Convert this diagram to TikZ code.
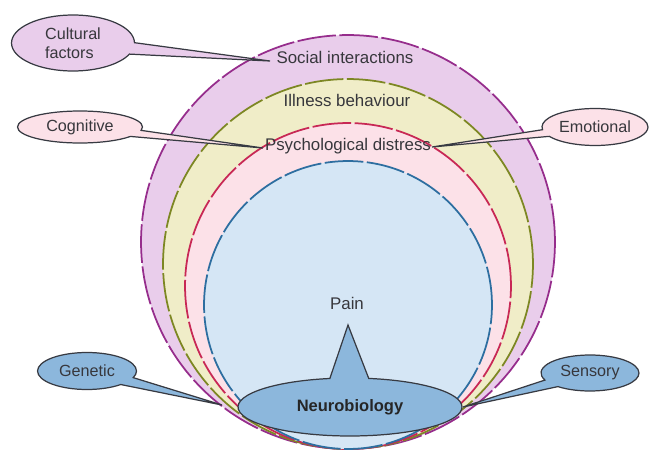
\documentclass[tikz,border=0pt]{standalone}
\usepackage{fontspec}
\setmainfont{Liberation Sans}
\usetikzlibrary{shapes.callouts, shapes.geometric, positioning}
\definecolor{socialline}{RGB}{150, 45, 140}
\definecolor{socialfill}{RGB}{233, 205, 235}
\definecolor{illnessline}{RGB}{125, 135, 35}
\definecolor{illnessfill}{RGB}{240, 237, 200}
\definecolor{distressline}{RGB}{200, 40, 85}
\definecolor{distressfill}{RGB}{252, 225, 232}
\definecolor{painline}{RGB}{45, 110, 160}
\definecolor{painfill}{RGB}{213, 230, 245}
\definecolor{neurofill}{RGB}{140, 183, 220}
\definecolor{outlinegrey}{RGB}{55, 58, 66}
\definecolor{labelgrey}{RGB}{55, 55, 60}

\begin{document}
\begin{tikzpicture}[
    x=0.02cm, y=-0.02cm,
    ring/.style={line width=1pt, dash pattern=on 22pt off 2pt},
    layer/.style={font=\fontsize{9.6}{11}\selectfont, text=labelgrey, inner sep=1pt},
    bubble/.style={ellipse callout, draw=outlinegrey, line width=0.7pt, inner sep=0pt,
        align=left, font=\fontsize{9.2}{11}\selectfont, text=labelgrey}
]
    \useasboundingbox (0,0) rectangle (650,450);

    \coordinate (csocial) at (348,242);
    \coordinate (cillness) at (348,264);
    \coordinate (cdistress) at (348,286);
    \coordinate (cpain) at (348,305);

    \draw[ring, draw=socialline, fill=socialfill] (csocial) circle[radius=4.14cm];
    \draw[ring, draw=illnessline, fill=illnessfill] (cillness) circle[radius=3.70cm];
    \draw[ring, draw=distressline, fill=distressfill] (cdistress) circle[radius=3.26cm];
    \draw[ring, draw=painline, fill=painfill] (cpain) circle[radius=2.88cm];

    \node[layer] (social) at (345,57) {Social interactions};
    \node[layer] (illness) at (347,100) {Illness behaviour};
    \node[layer] (distress) at (348,146) {Psychological distress};
    \node[layer] (pain) at (347,303) {Pain};

    \coordinate (culturaltip) at (270,61);
    \coordinate (cognitivetip) at (263,148);
    \coordinate (emotionaltip) at (432,147);
    \coordinate (genetictip) at (222,405);
    \coordinate (sensorytip) at (463,407);
    \coordinate (neurotip) at (348,325);

    \node[bubble, fill=socialfill, minimum width=2.46cm, minimum height=1.12cm,
        callout pointer arc=24, callout absolute pointer={(culturaltip)}] (cultural) at (73,43)
        {Cultural\\factors};
    \node[bubble, fill=distressfill, minimum width=2.5cm, minimum height=0.64cm,
        callout pointer arc=24, callout absolute pointer={(cognitivetip)}] (cognitive) at (80,127)
        {Cognitive};
    \node[bubble, fill=distressfill, minimum width=2.12cm, minimum height=0.74cm,
        callout pointer arc=22, callout absolute pointer={(emotionaltip)}] (emotional) at (595,127)
        {Emotional};
    \node[bubble, fill=neurofill, minimum width=1.98cm, minimum height=0.74cm,
        callout pointer arc=26, callout absolute pointer={(genetictip)}] (genetic) at (87,371)
        {Genetic};
    \node[bubble, fill=neurofill, minimum width=1.96cm, minimum height=0.72cm,
        callout pointer arc=26, callout absolute pointer={(sensorytip)}] (sensory) at (590,373)
        {Sensory};
    \node[bubble, fill=neurofill, minimum width=4.48cm, minimum height=1.16cm,
        font=\fontsize{9.4}{11}\selectfont\bfseries, text=black!85,
        callout pointer arc=20, callout absolute pointer={(neurotip)}] (neuro) at (350,407)
        {Neurobiology};
\end{tikzpicture}
\end{document}
